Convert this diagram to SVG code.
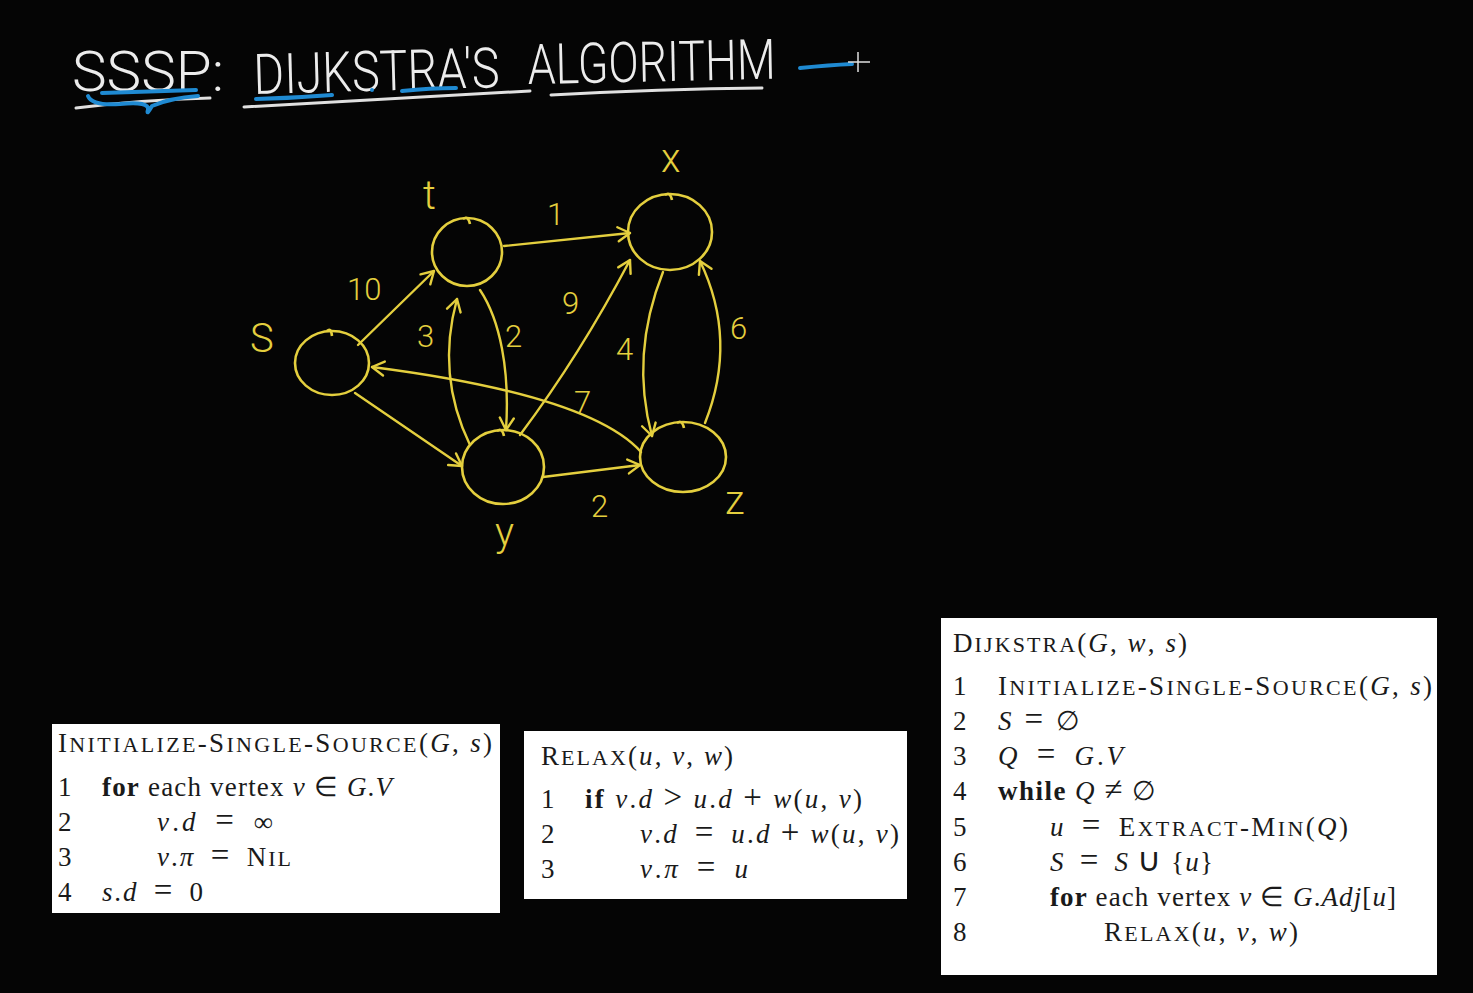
<svg xmlns="http://www.w3.org/2000/svg" width="1473" height="993" viewBox="0 0 1473 993">
<style>
.hw{font-family:"Roboto","Open Sans","Liberation Sans",sans-serif;font-weight:300;}
.title{fill:#ececec;font-size:56px;}
.ul{fill:none;stroke:#e0e0e0;stroke-width:3;stroke-linecap:round;}
.blue{fill:none;stroke:#1f8ad2;stroke-width:4;stroke-linecap:round;}
.node{fill:none;stroke:#e4cf3e;stroke-width:2.6;}
.nl{fill:#e4cf3e;font-size:40px;}
.el{fill:#e4cf3e;font-size:31px;}
.edge{fill:none;stroke:#e4cf3e;stroke-width:2.4;stroke-linecap:round;marker-end:url(#ah);}
.box{fill:#ffffff;}
.code{font-family:"Liberation Serif","Times New Roman",serif;font-size:27px;fill:#1a1a1a;}
.s{font-size:22px;}
.o{font-size:33px;}
.i{font-style:italic;}
.b{font-weight:bold;}
</style>
<defs>
<marker id="ah" viewBox="-15 -10 17 20" markerWidth="17" markerHeight="20" refX="0" refY="0" orient="auto" markerUnits="userSpaceOnUse">
<path d="M-12,-7 L0,0 L-12,7" fill="none" stroke="#e4cf3e" stroke-width="2.4" stroke-linecap="round" stroke-linejoin="round"/>
</marker>
</defs>
<rect x="0" y="0" width="1473" height="993" fill="#050505"/>

<g id="title">
<text class="hw title" x="72" y="91" textLength="152" lengthAdjust="spacingAndGlyphs">SSSP:</text>
<text class="hw title" x="254" y="94" textLength="246" lengthAdjust="spacingAndGlyphs" transform="rotate(-1.6 254 94)">DIJKSTRA'S</text>
<text class="hw title" x="528" y="84" textLength="248" lengthAdjust="spacingAndGlyphs" transform="rotate(-1.2 528 84)">ALGORITHM</text>
<path class="ul" d="M76,108 Q140,100 210,98"/>
<path class="ul" d="M244,107 Q390,99 530,91"/>
<path class="ul" d="M551,95 Q660,89 762,88"/>
<path class="blue" d="M102,93 L196,90"/>
<path class="blue" d="M88,96 Q92,106 120,104 Q150,101 148,110 Q146,116 152,106 Q170,98 198,96"/>
<path class="blue" d="M256,99 Q295,98 332,95"/>
<path class="blue" d="M402,91 Q430,88 456,88"/>
<circle cx="372" cy="90" r="2" fill="#1f8ad2"/>
<path class="blue" d="M800,68 Q830,65 852,64"/>
<path d="M858,52 L858,72 M848,62 L870,62" stroke="#e0e0e0" stroke-width="1.5" fill="none"/>
</g>

<g id="connectors">
<path class="edge" d="M358,345 L434,271"/>
<path class="edge" d="M504,246 L630,233"/>
<path class="edge" d="M480,290 C500,320 510,370 506,430"/>
<path class="edge" d="M470,445 Q436,375 457,299"/>
<path class="edge" d="M355,393 L462,466"/>
<path class="edge" d="M641,452 Q590,395 372,367"/>
<path class="edge" d="M520,435 Q580,355 630,260"/>
<path class="edge" d="M663,272 Q630,355 652,436"/>
<path class="edge" d="M705,423 Q738,340 700,261"/>
<path class="edge" d="M543,477 L640,465"/>
<text class="hw el" x="347" y="300">10</text>
<text class="hw el" x="547" y="225">1</text>
<text class="hw el" x="417" y="347">3</text>
<text class="hw el" x="505" y="347">2</text>
<text class="hw el" x="562" y="314">9</text>
<text class="hw el" x="616" y="360">4</text>
<text class="hw el" x="730" y="339">6</text>
<text class="hw el" x="574" y="413">7</text>
<text class="hw el" x="591" y="517">2</text>
</g>

<g id="node-s">
<ellipse class="node" cx="332" cy="363" rx="37" ry="32"/>
<path class="node" d="M327,331 Q331,327 332,336"/>
<text class="hw nl" x="250" y="352">S</text>
</g>
<g id="node-t">
<ellipse class="node" cx="467" cy="252" rx="35" ry="34"/>
<path class="node" d="M463,219 Q468,215 470,224"/>
<text class="hw nl" x="423" y="209">t</text>
</g>
<g id="node-x">
<ellipse class="node" cx="670" cy="232" rx="42" ry="38"/>
<path class="node" d="M665,195 Q670,191 672,200"/>
<text class="hw nl" x="661" y="172">x</text>
</g>
<g id="node-y">
<ellipse class="node" cx="503" cy="467" rx="41" ry="37"/>
<path class="node" d="M497,431 Q502,427 504,436"/>
<text class="hw nl" x="495" y="546">y</text>
</g>
<g id="node-z">
<ellipse class="node" cx="683" cy="457" rx="43" ry="35"/>
<path class="node" d="M677,423 Q682,419 684,428"/>
<text class="hw nl" x="725" y="514">z</text>
</g>

<g id="init-box">
<rect class="box" x="52" y="724" width="448" height="189"/>
<text class="code" x="58" y="752" textLength="434">I<tspan class="s">NITIALIZE</tspan>-S<tspan class="s">INGLE</tspan>-S<tspan class="s">OURCE</tspan>(<tspan class="i">G</tspan>, <tspan class="i">s</tspan>)</text>
<text class="code" x="58" y="796">1</text>
<text class="code" x="102" y="796" textLength="290"><tspan class="b">for</tspan> each vertex <tspan class="i">ν</tspan> ∈ <tspan class="i">G</tspan>.<tspan class="i">V</tspan></text>
<text class="code" x="58" y="831">2</text>
<text class="code" x="157" y="831" textLength="116"><tspan class="i">ν</tspan>.<tspan class="i">d</tspan>&#8194;<tspan class="o">=</tspan>&#8194;∞</text>
<text class="code" x="58" y="866">3</text>
<text class="code" x="157" y="866" textLength="134"><tspan class="i">ν</tspan>.<tspan class="i">π</tspan>&#8194;<tspan class="o">=</tspan>&#8194;N<tspan class="s">IL</tspan></text>
<text class="code" x="58" y="901">4</text>
<text class="code" x="102" y="901" textLength="101"><tspan class="i">s</tspan>.<tspan class="i">d</tspan>&#8194;<tspan class="o">=</tspan>&#8194;0</text>
</g>

<g id="relax-box">
<rect class="box" x="524" y="731" width="383" height="168"/>
<text class="code" x="541" y="765" textLength="192">R<tspan class="s">ELAX</tspan>(<tspan class="i">u</tspan>, <tspan class="i">ν</tspan>, <tspan class="i">w</tspan>)</text>
<text class="code" x="541" y="808">1</text>
<text class="code" x="585" y="808" textLength="277"><tspan class="b">if</tspan> <tspan class="i">ν</tspan>.<tspan class="i">d</tspan> <tspan class="o">&gt;</tspan> <tspan class="i">u</tspan>.<tspan class="i">d</tspan> <tspan class="o">+</tspan> <tspan class="i">w</tspan>(<tspan class="i">u</tspan>, <tspan class="i">ν</tspan>)</text>
<text class="code" x="541" y="843">2</text>
<text class="code" x="640" y="843" textLength="259"><tspan class="i">ν</tspan>.<tspan class="i">d</tspan>&#8194;<tspan class="o">=</tspan>&#8194;<tspan class="i">u</tspan>.<tspan class="i">d</tspan> <tspan class="o">+</tspan> <tspan class="i">w</tspan>(<tspan class="i">u</tspan>, <tspan class="i">ν</tspan>)</text>
<text class="code" x="541" y="878">3</text>
<text class="code" x="640" y="878" textLength="108"><tspan class="i">ν</tspan>.<tspan class="i">π</tspan>&#8194;<tspan class="o">=</tspan>&#8194;<tspan class="i">u</tspan></text>
</g>

<g id="dijkstra-box">
<rect class="box" x="941" y="618" width="496" height="357"/>
<text class="code" x="953" y="652" textLength="234">D<tspan class="s">IJKSTRA</tspan>(<tspan class="i">G</tspan>, <tspan class="i">w</tspan>, <tspan class="i">s</tspan>)</text>
<text class="code" x="953" y="695">1</text>
<text class="code" x="998" y="695" textLength="434">I<tspan class="s">NITIALIZE</tspan>-S<tspan class="s">INGLE</tspan>-S<tspan class="s">OURCE</tspan>(<tspan class="i">G</tspan>, <tspan class="i">s</tspan>)</text>
<text class="code" x="953" y="730">2</text>
<text class="code" x="998" y="730" textLength="82"><tspan class="i">S</tspan>&#8194;<tspan class="o">=</tspan>&#8194;∅</text>
<text class="code" x="953" y="765">3</text>
<text class="code" x="998" y="765" textLength="125"><tspan class="i">Q</tspan>&#8194;<tspan class="o">=</tspan>&#8194;<tspan class="i">G</tspan>.<tspan class="i">V</tspan></text>
<text class="code" x="953" y="800">4</text>
<text class="code" x="998" y="800" textLength="158"><tspan class="b">while</tspan> <tspan class="i">Q</tspan> <tspan class="o">≠</tspan> ∅</text>
<text class="code" x="953" y="836">5</text>
<text class="code" x="1050" y="836" textLength="298"><tspan class="i">u</tspan>&#8194;<tspan class="o">=</tspan>&#8194;E<tspan class="s">XTRACT</tspan>-M<tspan class="s">IN</tspan>(<tspan class="i">Q</tspan>)</text>
<text class="code" x="953" y="871">6</text>
<text class="code" x="1050" y="871" textLength="163"><tspan class="i">S</tspan>&#8194;<tspan class="o">=</tspan>&#8194;<tspan class="i">S</tspan> <tspan class="o">∪</tspan> {<tspan class="i">u</tspan>}</text>
<text class="code" x="953" y="906">7</text>
<text class="code" x="1050" y="906" textLength="346"><tspan class="b">for</tspan> each vertex <tspan class="i">ν</tspan> ∈ <tspan class="i">G</tspan>.<tspan class="i">Adj</tspan>[<tspan class="i">u</tspan>]</text>
<text class="code" x="953" y="941">8</text>
<text class="code" x="1104" y="941" textLength="194">R<tspan class="s">ELAX</tspan>(<tspan class="i">u</tspan>, <tspan class="i">ν</tspan>, <tspan class="i">w</tspan>)</text>
</g>
</svg>
